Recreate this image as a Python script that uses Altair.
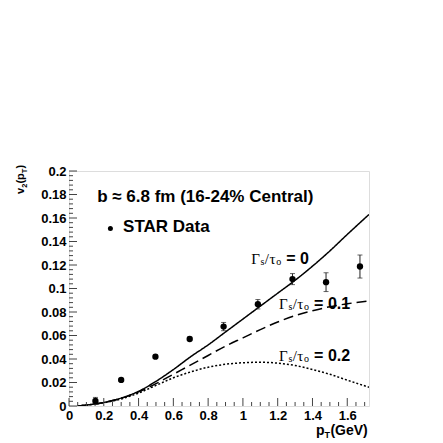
import altair as alt
import pandas as pd

# ---- data ----
pt_data = [0.152, 0.300, 0.497, 0.694, 0.889, 1.086, 1.285, 1.478, 1.673]
v2_data = [0.0043, 0.0222, 0.0420, 0.0570, 0.0676, 0.0866, 0.1080, 0.1054, 0.1187]
v2_err = [0.0030, 0.0010, 0.0010, 0.0015, 0.0035, 0.0040, 0.0047, 0.0080, 0.0098]

pt_curve = [0.05, 0.1, 0.2, 0.3, 0.4, 0.5, 0.6, 0.7, 0.8, 0.9, 1.0, 1.1, 1.2, 1.3, 1.4, 1.5, 1.6, 1.725]
v2_ideal = [0.0, 0.0008, 0.003, 0.0068, 0.0125, 0.021, 0.031, 0.042, 0.052, 0.063, 0.074, 0.085, 0.096, 0.107, 0.119, 0.132, 0.146, 0.163]
v2_visc01 = [0.0, 0.0008, 0.003, 0.0065, 0.012, 0.019, 0.027, 0.035, 0.043, 0.051, 0.058, 0.065, 0.0715, 0.077, 0.081, 0.0845, 0.087, 0.0895]
v2_visc02 = [0.0, 0.0008, 0.0028, 0.006, 0.011, 0.0175, 0.024, 0.029, 0.033, 0.0355, 0.0368, 0.0372, 0.0365, 0.0345, 0.031, 0.027, 0.022, 0.016]

x_major = [0, 0.2, 0.4, 0.6, 0.8, 1.0, 1.2, 1.4, 1.6]
y_major = [0, 0.02, 0.04, 0.06, 0.08, 0.1, 0.12, 0.14, 0.16, 0.18, 0.2]
x_minor = [round(i * 0.05, 3) for i in range(35) if i % 4 != 0]
y_minor = [round(i * 0.004, 4) for i in range(51) if i % 5 != 0]

W, H = 300, 235
XD = [0, 1.725]
YD = [0, 0.2]
SANS = "Liberation Sans"
SERIF = "Liberation Serif"

xs = alt.Scale(domain=XD, nice=False, zero=False)
ys = alt.Scale(domain=YD, nice=False, zero=False)

AX = alt.Axis(values=x_major, ticks=False, domain=False, grid=False, title=None,
              labelFont=SANS, labelFontWeight="bold", labelFontSize=13,
              labelColor="black", labelPadding=3, labelFlush=False,
              labelOverlap=False, format=".1~f")
AY = alt.Axis(values=y_major, ticks=False, domain=False, grid=False, title=None,
              labelFont=SANS, labelFontWeight="bold", labelFontSize=13,
              labelColor="black", labelPadding=3,
              labelOverlap=False, format=".2~f")

curves = pd.DataFrame({
    "pT": pt_curve * 3,
    "v2": v2_ideal + v2_visc01 + v2_visc02,
    "model": ["0"] * len(pt_curve) + ["0.1"] * len(pt_curve) + ["0.2"] * len(pt_curve),
})
pts = pd.DataFrame({"pT": pt_data, "v2": v2_data, "err": v2_err})
pts["lo"] = pts["v2"] - pts["err"]
pts["hi"] = pts["v2"] + pts["err"]

X = lambda: alt.X("pT:Q", scale=xs, axis=AX)
Y = lambda f="v2": alt.Y(f + ":Q", scale=ys, axis=AY)

lines = alt.Chart(curves).mark_line(color="black", strokeWidth=1.5, interpolate="monotone", clip=True).encode(
    x=X(), y=Y(),
    detail="model:N",
    strokeDash=alt.StrokeDash("model:N", legend=None,
                              scale=alt.Scale(domain=["0", "0.1", "0.2"],
                                              range=[[1, 0], [10, 5], [2, 2]])),
)

err = alt.Chart(pts).mark_rule(color="#222", strokeWidth=1).encode(
    x=X(), y=Y("lo"), y2="hi:Q")
cap_lo = alt.Chart(pts).mark_tick(color="#222", thickness=1, size=5, orient="horizontal").encode(
    x=X(), y=Y("lo"))
cap_hi = alt.Chart(pts).mark_tick(color="#222", thickness=1, size=5, orient="horizontal").encode(
    x=X(), y=Y("hi"))
dots = alt.Chart(pts).mark_point(filled=True, color="black", opacity=1, size=40, shape="circle").encode(
    x=X(), y=Y())

# inward ticks
def yticks(vals, length):
    return alt.Chart(pd.DataFrame({"v2": vals})).mark_rule(color="#444", strokeWidth=1).encode(
        y=Y(), x=alt.value(0), x2=alt.value(length))

def xticks(vals, length):
    return alt.Chart(pd.DataFrame({"pT": vals})).mark_rule(color="#444", strokeWidth=1).encode(
        x=X(), y=alt.value(H), y2=alt.value(H - length))

ticks = [yticks(y_major, 8), yticks(y_minor, 4), xticks(x_major, 8), xticks(x_minor, 4)]

def txt(pt, v, text, font=SANS, size=17, weight="bold", dx=0, dy=0, align="left", baseline="alphabetic"):
    return alt.Chart(pd.DataFrame({"pT": [pt], "v2": [v]})).mark_text(
        text=text, font=font, fontSize=size, fontWeight=weight, color="black",
        align=align, baseline=baseline, dx=dx, dy=dy).encode(x=X(), y=Y())

texts = [
    txt(0.162, 0.174, "b \u2248 6.8 fm (16-24% Central)"),
    txt(0.311, 0.1477, "STAR Data"),
    alt.Chart(pd.DataFrame({"pT": [0.238], "v2": [0.151]})).mark_point(
        filled=True, color="black", opacity=1, size=25).encode(x=X(), y=Y()),
]

def gamma_label(pt, v, val):
    parts = [
        ("\u0393", SERIF, 15, "normal", 0, 0),
        ("s", SERIF, 10, "normal", 9.3, 3),
        ("/", SERIF, 15, "normal", 13.6, 0),
        ("\u03c4", SERIF, 15, "normal", 18.2, 0),
        ("o", SERIF, 10, "normal", 25, 3),
        ("= " + val, SANS, 16, "bold", 35, 0),
    ]
    return [txt(pt, v, t, font=f, size=s, weight=w, dx=dx, dy=dy, baseline="middle")
            for (t, f, s, w, dx, dy) in parts]

texts += gamma_label(1.048, 0.125, "0")
texts += gamma_label(1.208, 0.0865, "0.1")
texts += gamma_label(1.208, 0.0428, "0.2")

one = pd.DataFrame({"a": [0]})

def ptxt(x, y, text, size, dx=0, dy=0, angle=0):
    props = dict(text=text, font=SANS, fontSize=size, fontWeight="bold", color="black",
                 align="left", baseline="alphabetic", dx=dx, dy=dy)
    if angle:
        props["angle"] = angle
    return alt.Chart(one).mark_text(**props).encode(x=alt.value(x), y=alt.value(y))

# x axis title p_T(GeV)
xt = [ptxt(247, 264, "p", 14), ptxt(247, 264, "T", 9, dx=8.6, dy=3),
      ptxt(247, 264, "(GeV)", 14, dx=14.4)]
# y axis title v_2(p_T), rotated
yt = [ptxt(-45, 23, "v", 11, angle=270),
      ptxt(-45, 23, "2", 7.5, dx=6.2, dy=2.5, angle=270),
      ptxt(-45, 23, "(p", 11, dx=10.4, angle=270),
      ptxt(-45, 23, "T", 7.5, dx=20.8, dy=2.5, angle=270),
      ptxt(-45, 23, ")", 11, dx=25.5, angle=270)]

chart = alt.layer(lines, *ticks, err, cap_lo, cap_hi, dots, *texts, *xt, *yt).properties(
    width=W, height=H,
    autosize=alt.AutoSizeParams(type="none"),
    padding={"left": 61, "top": 163, "right": 66, "bottom": 36},
).configure_view(stroke="#444", strokeWidth=1).configure_axis(labelOverlap=False).configure(background="white")

chart.save("out.html", embed_options={"renderer": "svg", "actions": False})
